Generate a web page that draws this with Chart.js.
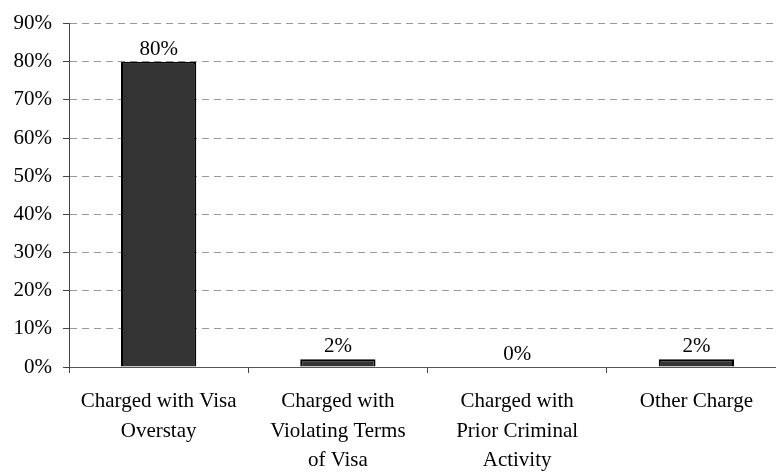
<!DOCTYPE html>
<html>
<head>
<meta charset="utf-8">
<script src="https://cdn.jsdelivr.net/npm/chart.js@4"></script>
<style>
  html, body { margin: 0; padding: 0; background: #fff; overflow: hidden; }
  #wrap { width: 786px; height: 472px; }
</style>
</head>
<body>
<div id="wrap"><canvas id="chart"></canvas></div>
<script>
const categories = [
    ["Charged with Visa", "Overstay"],
    ["Charged with", "Violating Terms", "of Visa"],
    ["Charged with", "Prior Criminal", "Activity"],
    ["Other Charge"],
];
const values = [80, 2, 0, 2];
const yTicks = [0, 10, 20, 30, 40, 50, 60, 70, 80, 90];

const FONT = "'Liberation Serif', 'Times New Roman', serif";

// value labels above each bar
const barLabels = {
    id: "barLabels",
    afterDatasetsDraw(chart) {
        const ctx = chart.ctx;
        const meta = chart.getDatasetMeta(0);
        ctx.save();
        ctx.font = `21px ${FONT}`;
        ctx.fillStyle = "#000";
        ctx.textAlign = "center";
        ctx.textBaseline = "alphabetic";
        meta.data.forEach((bar, i) => {
            ctx.fillText(values[i] + "%", bar.x, bar.y - 7);
        });
        ctx.restore();
    },
};

const ctx = document.getElementById("chart").getContext("2d");
new Chart(ctx, {
    type: "bar",
    data: {
        labels: categories,
        datasets: [
            {
                data: values,
                backgroundColor: "#333333",
                borderColor: "#000000",
                borderWidth: 2,
                barPercentage: 0.42,
                categoryPercentage: 1,
            },
        ],
    },
    options: {
        responsive: true,
        maintainAspectRatio: false,
        animation: false,
        layout: { padding: { top: 18, right: 0, bottom: 0, left: 0 } },
        plugins: {
            legend: { display: false },
            tooltip: { enabled: false },
        },
        scales: {
            x: {
                grid: {
                    offset: true,
                    drawOnChartArea: false,
                    drawTicks: true,
                    tickLength: 6,
                    color: "#444",
                },
                border: { color: "#555", width: 1 },
                ticks: {
                    color: "#000",
                    padding: 14,
                    maxRotation: 0,
                    autoSkip: false,
                    font: { family: FONT, size: 21, lineHeight: 1.4 },
                },
                afterFit: (scale) => { scale.height = 105; },
            },
            y: {
                min: 0,
                max: 90,
                afterBuildTicks: (scale) => {
                    scale.ticks = yTicks.map((v) => ({ value: v }));
                },
                grid: {
                    color: "#999",
                    tickColor: "#444",
                    tickLength: 6,
                    tickBorderDash: [],
                },
                border: { color: "#444", width: 1, dash: [7, 5] },
                ticks: {
                    color: "#000",
                    padding: 11,
                    font: { family: FONT, size: 21 },
                    callback: (v) => v + "%",
                },
                afterFit: (scale) => { scale.width = 69; },
            },
        },
    },
    plugins: [barLabels],
});
</script>
</body>
</html>
